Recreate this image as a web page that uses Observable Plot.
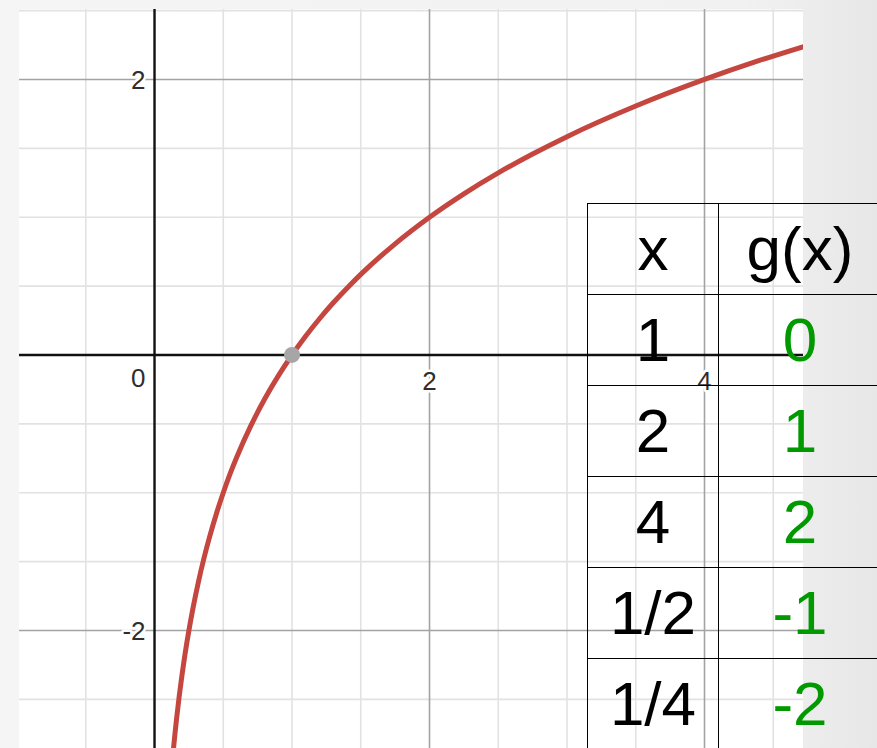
<!DOCTYPE html>
<html>
<head>
<meta charset="utf-8">
<script src="https://cdn.jsdelivr.net/npm/d3@7"></script>
<script src="https://cdn.jsdelivr.net/npm/@observablehq/plot@0.6"></script>
<style>
  html, body { margin: 0; padding: 0; width: 877px; height: 748px; overflow: hidden; }
  body {
    position: relative;
    background: linear-gradient(to right, #f5f5f5 0%, #f1f1f1 85%, #e7e7e7 100%);
    font-family: "Liberation Sans", Arial, sans-serif;
  }
  #graph { position: absolute; left: 19px; top: 9px; }
  #graph svg { display: block; }
  #graph svg .tick-label text { font-size: 26px !important; }
  #values {
    position: absolute; left: 587px; top: 203px;
    display: grid;
    grid-template-columns: 131px 163px;
    grid-auto-rows: 91px;
  }
  #values div {
    box-sizing: border-box;
    border-top: 1px solid #000;
    border-left: 1px solid #000;
    display: flex; align-items: center; justify-content: center;
    font-size: 62px; line-height: 1;
    color: #000;
  }
  #values div.g { color: #009a00; }
</style>
</head>
<body>
<div id="graph"></div>
<div id="values"></div>
<script>
// Sampled points of g along the visible range
const curveX = [0.13, 0.14, 0.15, 0.16, 0.18, 0.2, 0.22, 0.25, 0.28, 0.32, 0.36, 0.4, 0.45, 0.5, 0.55, 0.6, 0.7, 0.8, 0.9, 1, 1.1, 1.2, 1.3, 1.4, 1.5, 1.75, 2, 2.25, 2.5, 2.75, 3, 3.5, 4, 4.4, 4.8];
const curveY = [-2.943, -2.837, -2.737, -2.644, -2.474, -2.322, -2.184, -2, -1.837, -1.644, -1.474, -1.322, -1.152, -1, -0.862, -0.737, -0.515, -0.322, -0.152, 0, 0.138, 0.263, 0.379, 0.485, 0.585, 0.807, 1, 1.17, 1.322, 1.459, 1.585, 1.807, 2, 2.138, 2.263];

// Grid lines
const minorX = [-0.5, 0.5, 1, 1.5, 2.5, 3, 3.5, 4.5];
const majorX = [2, 4];
const minorY = [-2.5, -1.5, -1, -0.5, 0.5, 1, 1.5, 2.5];
const majorY = [-2, 2];

// Axis tick labels
const xTickLabels = [2, 4];
const yTickLabels = [2, -2];

// Highlighted point
const markedX = [1];
const markedY = [0];

// Value table
const tableHeader = ["x", "g(x)"];
const tableX = ["1", "2", "4", "1/2", "1/4"];
const tableG = [0, 1, 2, -1, -2];

const curve = curveX.map((x, i) => ({x, y: curveY[i]}));
const marked = markedX.map((x, i) => ({x, y: markedY[i]}));

const labelStyle = {fill: "#2e2e2e", stroke: "white", strokeWidth: 5, fontSize: 26, className: "tick-label"};

const chart = Plot.plot({
  width: 784,
  height: 739,
  margin: 0,
  x: {domain: [-0.982, 4.72], axis: null},
  y: {domain: [-2.857, 2.508], axis: null},
  style: {background: "white", fontFamily: "Liberation Sans, Arial, sans-serif"},
  marks: [
    Plot.ruleX(minorX, {stroke: "#e2e2e2", strokeWidth: 1.6}),
    Plot.ruleY(minorY, {stroke: "#e2e2e2", strokeWidth: 1.6}),
    Plot.ruleX(majorX, {stroke: "#a3a3a3", strokeWidth: 1.6}),
    Plot.ruleY(majorY, {stroke: "#a3a3a3", strokeWidth: 1.6}),
    Plot.text(xTickLabels, {x: d => d, y: 0, dy: 27, text: d => String(d), ...labelStyle}),
    Plot.text(yTickLabels, {x: 0, y: d => d, dx: -9, dy: 1, textAnchor: "end", text: d => String(d), ...labelStyle}),
    Plot.text([0], {x: 0, y: 0, dx: -9, dy: 24, textAnchor: "end", text: d => String(d), ...labelStyle}),
    Plot.ruleX([0], {stroke: "#111", strokeWidth: 2.4}),
    Plot.ruleY([0], {stroke: "#111", strokeWidth: 2.4}),
    Plot.line(curve, {x: "x", y: "y", stroke: "#c5463f", strokeWidth: 5, curve: "monotone-x", clip: true}),
    Plot.dot(marked, {x: "x", y: "y", r: 8, fill: "#a6a6a6"})
  ]
});
document.getElementById("graph").append(chart);

// Table of values drawn over the graph
const table = d3.select("#values");
tableHeader.forEach(h => table.append("div").text(h));
tableX.forEach((x, i) => {
  table.append("div").text(x);
  table.append("div").attr("class", "g").text(String(tableG[i]));
});
</script>
</body>
</html>
